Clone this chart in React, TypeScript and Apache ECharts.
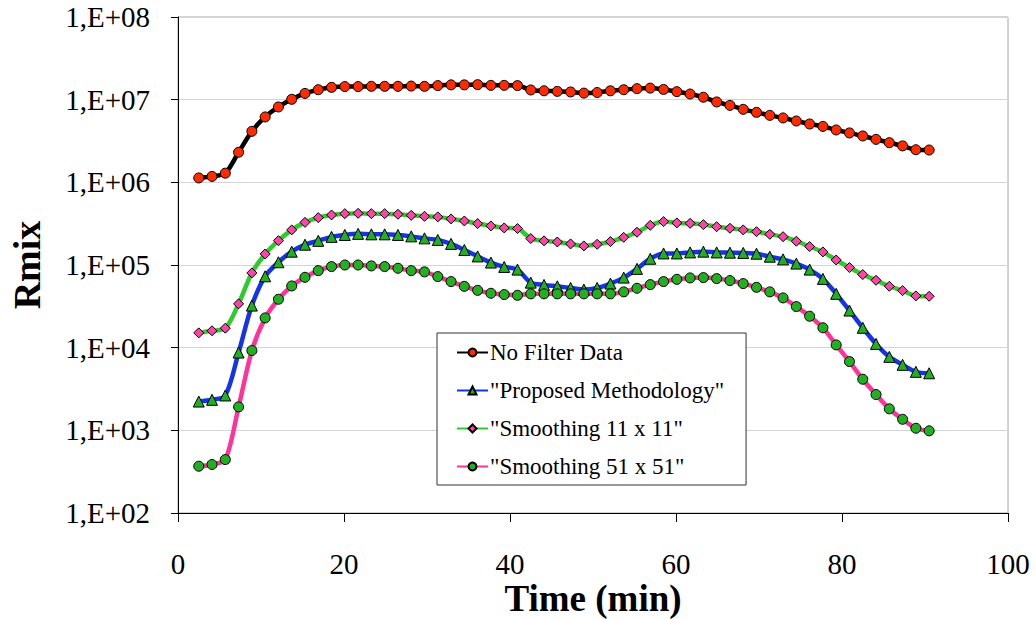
import React, { useEffect, useRef } from "react";
import * as echarts from "echarts";

const times = [2.5, 4.1, 5.7, 7.3, 8.9, 10.5, 12.1, 13.7, 15.3, 16.9, 18.5, 20.1, 21.7, 23.3, 24.9, 26.5, 28.1, 29.7, 31.3, 32.9, 34.5, 36.1, 37.7, 39.3, 40.9, 42.5, 44.1, 45.7, 47.3, 48.9, 50.5, 52.1, 53.7, 55.3, 56.9, 58.5, 60.1, 61.7, 63.3, 64.9, 66.5, 68.1, 69.7, 71.3, 72.9, 74.5, 76.1, 77.7, 79.3, 80.9, 82.5, 84.1, 85.7, 87.3, 88.9, 90.5];

const noFilter = [1.13e6, 1.18e6, 1.29e6, 2.31e6, 4.14e6, 6.18e6, 8.16e6, 1.01e7, 1.19e7, 1.32e7, 1.41e7, 1.44e7, 1.44e7, 1.45e7, 1.45e7, 1.45e7, 1.46e7, 1.45e7, 1.48e7, 1.51e7, 1.51e7, 1.52e7, 1.49e7, 1.49e7, 1.48e7, 1.31e7, 1.28e7, 1.26e7, 1.24e7, 1.2e7, 1.22e7, 1.28e7, 1.32e7, 1.36e7, 1.38e7, 1.33e7, 1.25e7, 1.17e7, 1.07e7, 9.38e6, 8.53e6, 7.64e6, 7.02e6, 6.46e6, 6.01e6, 5.52e6, 5.08e6, 4.75e6, 4.3e6, 3.96e6, 3.64e6, 3.31e6, 3.02e6, 2.76e6, 2.48e6, 2.46e6];

const proposed = [2.23e3, 2.34e3, 2.64e3, 8.73e3, 3.23e4, 7.3e4, 1.08e5, 1.45e5, 1.76e5, 1.96e5, 2.19e5, 2.31e5, 2.38e5, 2.35e5, 2.35e5, 2.31e5, 2.22e5, 2.1e5, 2.01e5, 1.8e5, 1.52e5, 1.27e5, 1.07e5, 9.48e4, 8.8e4, 6.12e4, 5.74e4, 5.52e4, 5.28e4, 5.04e4, 5.28e4, 5.96e4, 7.04e4, 8.98e4, 1.19e5, 1.38e5, 1.38e5, 1.42e5, 1.45e5, 1.42e5, 1.41e5, 1.4e5, 1.37e5, 1.26e5, 1.17e5, 1.04e5, 8.8e4, 6.79e4, 4.48e4, 2.81e4, 1.74e4, 1.11e4, 7.74e3, 6.2e3, 5.1e3, 4.9e3];

const smooth11 = [1.51e4, 1.6e4, 1.72e4, 3.39e4, 8.02e4, 1.36e5, 1.97e5, 2.66e5, 3.28e5, 3.74e5, 4.03e5, 4.18e5, 4.22e5, 4.18e5, 4.18e5, 4.11e5, 3.99e5, 3.88e5, 3.82e5, 3.61e5, 3.41e5, 3.17e5, 2.97e5, 2.81e5, 2.76e5, 2.09e5, 1.96e5, 1.9e5, 1.8e5, 1.7e5, 1.78e5, 1.92e5, 2.16e5, 2.49e5, 3.02e5, 3.35e5, 3.23e5, 3.19e5, 3.08e5, 2.91e5, 2.78e5, 2.66e5, 2.53e5, 2.35e5, 2.2e5, 1.94e5, 1.67e5, 1.44e5, 1.15e5, 9.31e4, 7.66e4, 6.53e4, 5.53e4, 4.9e4, 4.23e4, 4.18e4];

const smooth51 = [368, 386, 443, 1.92e3, 9.23e3, 2.29e4, 3.85e4, 5.58e4, 7.1e4, 8.55e4, 9.57e4, 1.0e5, 1.0e5, 9.75e4, 9.57e4, 9.13e4, 8.55e4, 8.26e4, 7.24e4, 6.3e4, 5.52e4, 4.94e4, 4.55e4, 4.39e4, 4.3e4, 4.48e4, 4.48e4, 4.48e4, 4.48e4, 4.48e4, 4.48e4, 4.48e4, 4.73e4, 5.23e4, 5.79e4, 6.3e4, 6.71e4, 6.98e4, 7.04e4, 6.85e4, 6.48e4, 5.96e4, 5.37e4, 4.73e4, 4.0e4, 3.14e4, 2.4e4, 1.74e4, 1.08e4, 6.79e3, 4.15e3, 2.71e3, 1.82e3, 1.36e3, 1.06e3, 986];

const seriesNames = ["No Filter Data", '"Proposed Methodology"', '"Smoothing 11 x 11"', '"Smoothing 51 x 51"'];
const xTicks = [0, 20, 40, 60, 80, 100];

const FONT = "'Liberation Serif', 'Times New Roman', serif";

export default function App() {
  const ref = useRef<HTMLDivElement>(null);
  useEffect(() => {
    if (!ref.current) return;
    const chart = echarts.init(ref.current, undefined, { renderer: "svg" });
    const zip = (vals: number[]) => vals.map((v, i) => [times[i], v]);
    const mk = (
      name: string,
      vals: number[],
      lineColor: string,
      symbol: string,
      symbolSize: number,
      markerColor: string
    ) => ({
      name,
      type: "line",
      data: zip(vals),
      smooth: 0.3,
      symbol,
      symbolSize,
      showAllSymbol: true,
      lineStyle: { color: lineColor, width: 4.5 },
      itemStyle: { color: markerColor, borderColor: "#000", borderWidth: 1 },
      emphasis: { disabled: true },
    });
    chart.setOption({
      animation: false,
      backgroundColor: "#fff",
      grid: {
        left: 178,
        top: 17,
        width: 830,
        height: 496,
        containLabel: false,
        outerBoundsMode: "none",
        show: true,
        borderColor: "#a6a6a6",
        borderWidth: 1,
        backgroundColor: "transparent",
      },
      legend: {
        orient: "vertical",
        left: 437,
        top: 333,
        padding: [8, 22, 7, 19],
        backgroundColor: "#fff",
        borderColor: "#333",
        borderWidth: 1,
        itemWidth: 31,
        itemHeight: 10,
        itemGap: 15,
        textStyle: { fontFamily: FONT, fontSize: 23, color: "#000", lineHeight: 22, padding: [0, 0, 0, -3] },
        data: seriesNames,
      },
      xAxis: {
        type: "value",
        min: 0,
        max: 100,
        interval: 20,
        name: "Time (min)",
        nameLocation: "middle",
        nameGap: 67,
        nameMoveOverlap: false,
        nameTextStyle: { fontFamily: FONT, fontSize: 37, fontWeight: "bold", color: "#000", lineHeight: 37, verticalAlign: "top" },
        axisLine: { show: true, onZero: false, lineStyle: { color: "#000", width: 1 } },
        axisTick: { show: true, inside: false, length: 9, lineStyle: { color: "#000" } },
        axisLabel: {
          fontFamily: FONT,
          fontSize: 29,
          color: "#000",
          margin: 36,
          formatter: (v: number) => (xTicks.includes(v) ? String(v) : ""),
        },
        splitLine: { show: false },
      },
      yAxis: {
        type: "log",
        logBase: 10,
        min: 100,
        max: 1e8,
        splitNumber: 6,
        name: "Rmix",
        nameLocation: "middle",
        nameGap: 132,
        nameTextStyle: { fontFamily: FONT, fontSize: 38, fontWeight: "bold", color: "#000" },
        axisLine: { show: true, lineStyle: { color: "#000", width: 1 } },
        axisTick: { show: true, inside: false, length: 7, lineStyle: { color: "#000" } },
        axisLabel: {
          fontFamily: FONT,
          fontSize: 29,
          color: "#000",
          margin: 28,
          formatter: (v: number) => {
            const e = Math.round(Math.log10(v));
            return "1,E+" + (e < 10 ? "0" + e : String(e));
          },
        },
        splitLine: { show: true, lineStyle: { color: "#d4d4d4", width: 1 } },
      },
      series: [
        mk(seriesNames[0], noFilter, "#000000", "circle", 10, "#ff2a00"),
        mk(seriesNames[1], proposed, "#1533e8", "triangle", 11, "#22b022"),
        mk(seriesNames[2], smooth11, "#2ccc2c", "diamond", 10, "#ff44a8"),
        mk(seriesNames[3], smooth51, "#ff3399", "circle", 10, "#22b022"),
      ],
    });
    return () => chart.dispose();
  }, []);
  return (
    <div
      ref={ref}
      style={{ position: "fixed", left: 0, top: 0, width: 1036, height: 619 }}
    />
  );
}
